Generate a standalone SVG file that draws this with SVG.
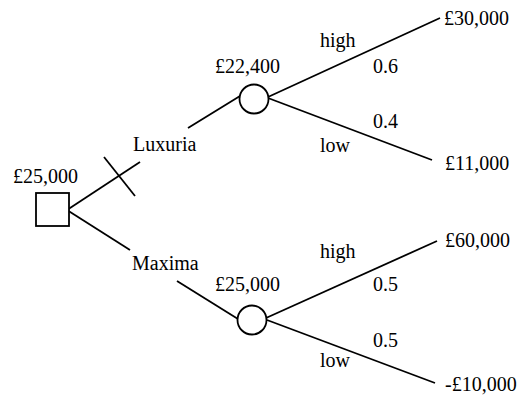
<svg xmlns="http://www.w3.org/2000/svg" width="528" height="396" viewBox="0 0 528 396">
<style>
.t{font-family:"Liberation Serif","Times New Roman",serif;font-size:20px;fill:#000}
.l{stroke:#000;stroke-width:1.8;fill:none;stroke-linecap:butt}
.n{stroke:#000;stroke-width:1.8;fill:#fff}
</style>
<rect width="528" height="396" fill="#fff"/>
<g id="connectors">
<line class="l" x1="67" y1="210" x2="140" y2="162"/>
<line class="l" x1="104" y1="157" x2="135" y2="196"/>
<line class="l" x1="67" y1="210" x2="130" y2="250"/>
<line class="l" x1="188" y1="128" x2="240" y2="96"/>
<line class="l" x1="268" y1="97" x2="440" y2="18"/>
<line class="l" x1="268" y1="98" x2="432" y2="160"/>
<line class="l" x1="177" y1="281" x2="238" y2="319"/>
<line class="l" x1="266" y1="318" x2="437" y2="241"/>
<line class="l" x1="267" y1="320" x2="435" y2="383"/>
</g>
<g id="decision">
<rect class="n" x="36" y="193" width="33" height="33"/>
<text class="t" x="13" y="183">£25,000</text>
</g>
<g id="luxuria-label"><text class="t" x="133" y="151">Luxuria</text></g>
<g id="maxima-label"><text class="t" x="132" y="270">Maxima</text></g>
<g id="chance1">
<circle class="n" cx="254" cy="99" r="14.5"/>
<text class="t" x="215" y="73">£22,400</text>
</g>
<g id="chance2">
<circle class="n" cx="252" cy="320" r="14.5"/>
<text class="t" x="215" y="291">£25,000</text>
</g>
<g id="labels1">
<text class="t" x="320" y="47">high</text>
<text class="t" x="373" y="73">0.6</text>
<text class="t" x="373" y="128">0.4</text>
<text class="t" x="320" y="152">low</text>
</g>
<g id="labels2">
<text class="t" x="320" y="258">high</text>
<text class="t" x="373" y="291">0.5</text>
<text class="t" x="373" y="347">0.5</text>
<text class="t" x="320" y="367">low</text>
</g>
<g id="outcome1"><text class="t" x="444" y="25">£30,000</text></g>
<g id="outcome2"><text class="t" x="445" y="170">£11,000</text></g>
<g id="outcome3"><text class="t" x="445" y="247">£60,000</text></g>
<g id="outcome4"><text class="t" x="445" y="391">-£10,000</text></g>
</svg>
